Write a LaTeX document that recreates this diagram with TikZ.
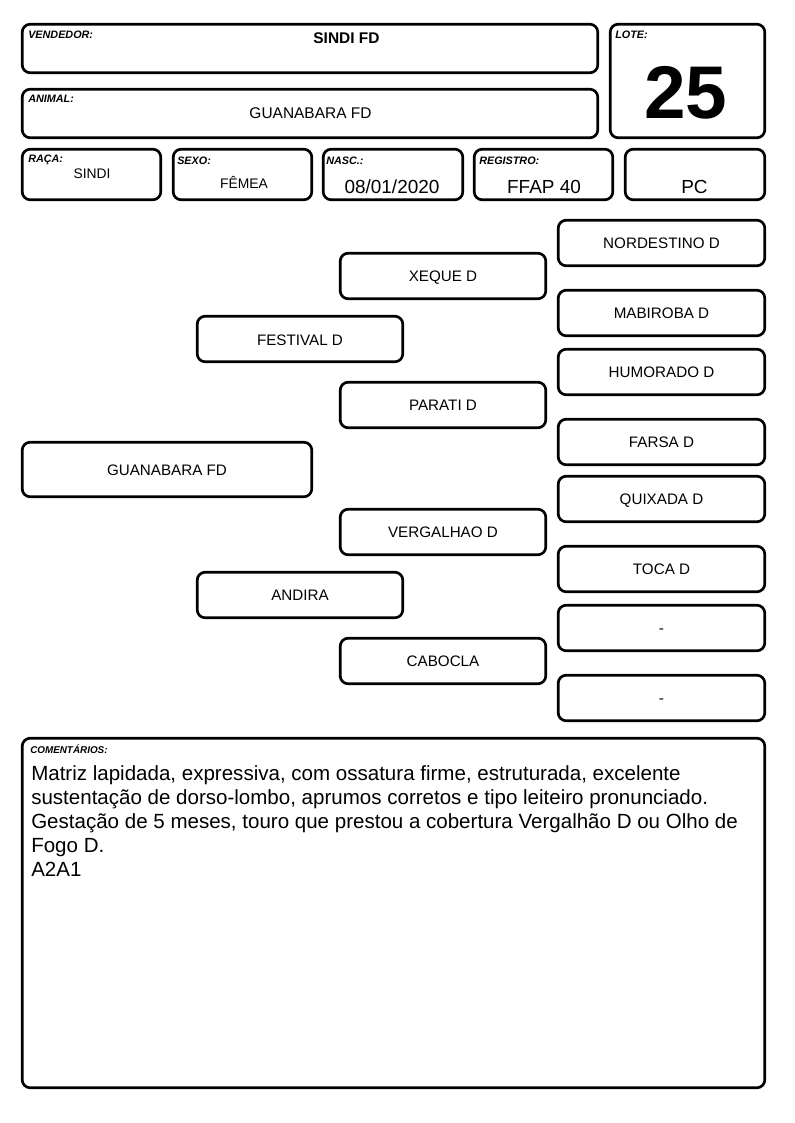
\documentclass[tikz,border=0pt]{standalone}
\usepackage{fontspec}
\setmainfont{Liberation Sans}
\newcommand{\fs}[1]{\fontsize{#1}{#1}\selectfont}
\tikzset{
  frame/.style={draw=black, line width=2pt, rounded corners=6pt},
  lbl/.style={anchor=base west, inner sep=0pt, font=\fs{8.1}\bfseries\itshape},
  val/.style={anchor=base, inner sep=0pt},
  ptxt/.style={anchor=base, inner sep=0pt, font=\fs{11.4}},
  ctxt/.style={anchor=base west, inner sep=0pt, font=\fs{15.4}},
}
\begin{document}
\begin{tikzpicture}[x=0.75pt,y=-0.75pt]
\useasboundingbox (0,0) rectangle (794,1123);
% header frames
\draw[frame] (22.2,24.2) rectangle (597.8,72.8);
\draw[frame] (610.2,24.2) rectangle (764.8,137.8);
\draw[frame] (22.2,89.2) rectangle (597.8,137.8);
\draw[frame] (22.2,149.2) rectangle (160.8,199.8);
\draw[frame] (173.2,149.2) rectangle (311.8,199.8);
\draw[frame] (323.2,149.2) rectangle (462.8,199.8);
\draw[frame] (474.2,149.2) rectangle (612.8,199.8);
\draw[frame] (625.2,149.2) rectangle (764.8,199.8);
% header texts
\node[lbl] (lvend) at (28,38.5) {VENDEDOR:};
\node[val, font=\fs{11.6}\bfseries] (vend) at (346.5,43.3) {SINDI FD};
\node[lbl] (llote) at (615,39) {LOTE:};
\node[val, font=\fs{56}\bfseries] (lote) at (686,118.3) {25};
\node[lbl] (lanim) at (28,102.3) {ANIMAL:};
\node[val, font=\fs{11.6}] (anim) at (310.5,119) {GUANABARA FD};
\node[lbl] (lraca) at (28,163) {RAÇA:};
\node[val, font=\fs{10.4}] (raca) at (92,178.3) {SINDI};
\node[lbl] (lsexo) at (177,165) {SEXO:};
\node[val, font=\fs{10.4}] (sexo) at (244,189) {FÊMEA};
\node[lbl] (lnasc) at (326,165) {NASC.:};
\node[val, font=\fs{14.2}] (nasc) at (392,193.3) {08/01/2020};
\node[lbl] (lreg) at (479,165) {REGISTRO:};
\node[val, font=\fs{14.2}] (reg) at (544,193.3) {FFAP 40};
\node[val, font=\fs{14.2}] (pc) at (694.5,193.3) {PC};
% pedigree frames
\draw[frame] (558.2,220.2) rectangle (764.8,265.8);
\draw[frame] (340.2,253.2) rectangle (545.8,298.8);
\draw[frame] (558.2,290.2) rectangle (764.8,335.8);
\draw[frame] (197.2,316.2) rectangle (402.8,361.8);
\draw[frame] (558.2,349.2) rectangle (764.8,394.8);
\draw[frame] (340.2,382.2) rectangle (545.8,427.8);
\draw[frame] (558.2,419.2) rectangle (764.8,464.8);
\draw[frame] (22.2,442.2) rectangle (311.8,496.8);
\draw[frame] (558.2,476.2) rectangle (764.8,521.8);
\draw[frame] (340.2,509.2) rectangle (545.8,554.8);
\draw[frame] (558.2,546.2) rectangle (764.8,591.8);
\draw[frame] (197.2,572.2) rectangle (402.8,617.8);
\draw[frame] (558.2,605.2) rectangle (764.8,650.8);
\draw[frame] (340.2,638.2) rectangle (545.8,683.8);
\draw[frame] (558.2,675.2) rectangle (764.8,720.8);
% pedigree texts
\node[ptxt] (p1) at (661.5,248) {NORDESTINO D};
\node[ptxt] (p2) at (443,281.5) {XEQUE D};
\node[ptxt] (p3) at (661.5,318.5) {MABIROBA D};
\node[ptxt] (p4) at (300,345) {FESTIVAL D};
\node[ptxt] (p5) at (661.5,377) {HUMORADO D};
\node[ptxt] (p6) at (443,410.5) {PARATI D};
\node[ptxt] (p7) at (661.5,447) {FARSA D};
\node[ptxt] (p8) at (167,475) {GUANABARA FD};
\node[ptxt] (p9) at (661.5,504.5) {QUIXADA D};
\node[ptxt] (p10) at (443,537.5) {VERGALHAO D};
\node[ptxt] (p11) at (661.5,574) {TOCA D};
\node[ptxt] (p12) at (300,600.5) {ANDIRA};
\node[ptxt] (p13) at (661.5,633) {-};
\node[ptxt] (p14) at (443,666) {CABOCLA};
\node[ptxt] (p15) at (661.5,703) {-};
% comments
\draw[frame] (22.2,738.2) rectangle (764.8,1087.8);
\node[lbl, font=\fs{7.4}\bfseries\itshape] (lcom) at (30,753.3) {COMENTÁRIOS:};
\node[ctxt] (c1) at (31,780) {Matriz lapidada, expressiva, com ossatura firme, estruturada, excelente};
\node[ctxt] (c2) at (31,804) {sustentação de dorso-lombo, aprumos corretos e tipo leiteiro pronunciado.};
\node[ctxt] (c3) at (31,828) {Gestação de 5 meses, touro que prestou a cobertura Vergalhão D ou Olho de};
\node[ctxt] (c4) at (31,852) {Fogo D.};
\node[ctxt] (c5) at (31,876) {A2A1};
\end{tikzpicture}
\end{document}
